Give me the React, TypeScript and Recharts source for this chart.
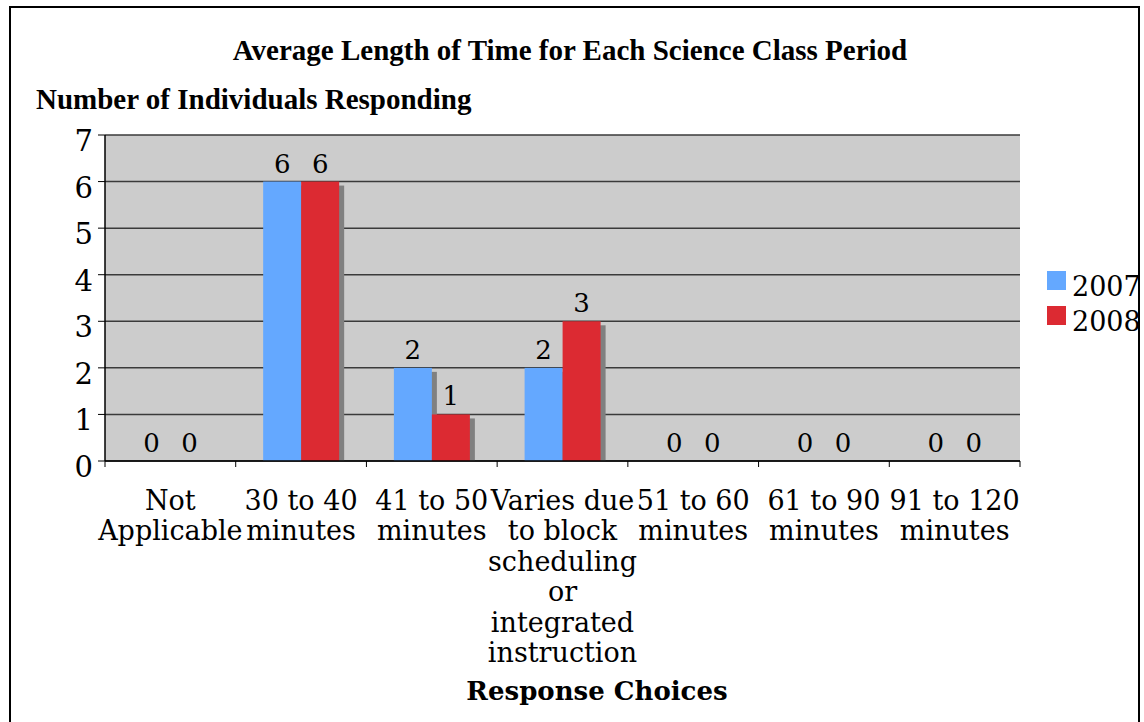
import { BarChart, Bar, XAxis, YAxis, CartesianGrid, Legend, LabelList } from 'recharts'

const categories = [
  'Not\nApplicable',
  '30 to 40\nminutes',
  '41 to 50\nminutes',
  'Varies due\nto block\nscheduling\nor\nintegrated\ninstruction',
  '51 to 60\nminutes',
  '61 to 90\nminutes',
  '91 to 120\nminutes',
]
const values2007 = [0, 6, 2, 2, 0, 0, 0]
const values2008 = [0, 6, 1, 3, 0, 0, 0]
const yTicks = [0, 1, 2, 3, 4, 5, 6, 7]

const data = categories.map((category, i) => ({
  category,
  y2007: values2007[i],
  y2008: values2008[i],
}))

const tickFont = '"DejaVu Serif", serif'

function CategoryTick(props: any) {
  const { x, y, payload, index, visibleTicksCount } = props
  const half = payload.offset ?? 0
  const lines = String(payload.value).split('\n')
  return (
    <g>
      <line x1={x - half} x2={x - half} y1={y - 6} y2={y} stroke="#000" />
      {index === visibleTicksCount - 1 && (
        <line x1={x + half} x2={x + half} y1={y - 6} y2={y} stroke="#000" />
      )}
      <text x={x} y={y} textAnchor="middle" fontFamily={tickFont} fontSize={27} fill="#000">
        {lines.map((line, i) => (
          <tspan key={i} x={x} dy={i === 0 ? 43 : 30.4}>
            {line}
          </tspan>
        ))}
      </text>
    </g>
  )
}

function ValueTick(props: any) {
  const { x, y, payload } = props
  return (
    <text x={x} y={y + 16} textAnchor="end" fontFamily={tickFont} fontSize={29} fill="#000">
      {payload.value}
    </text>
  )
}

function ShadowBar(props: any) {
  const { x, y, width, height, fill } = props
  if (!height || height <= 0) return null
  return (
    <g>
      {height > 4 && <rect x={x + 5} y={y + 4} width={width} height={height - 4} fill="#808080" />}
      <rect x={x} y={y} width={width} height={height} fill={fill} />
    </g>
  )
}

function LegendBox(props: any) {
  const { payload } = props
  return (
    <div style={{ fontFamily: tickFont, fontSize: 27, color: '#000' }}>
      {(payload || []).map((entry: any) => (
        <div key={entry.value} style={{ display: 'flex', alignItems: 'flex-start', height: 35 }}>
          <span style={{ width: 19, height: 19, background: entry.color, marginRight: 6, flexShrink: 0 }} />
          <span style={{ lineHeight: '32px', whiteSpace: 'nowrap' }}>{entry.value}</span>
        </div>
      ))}
    </div>
  )
}

export default function App() {
  return (
    <div style={{ position: 'absolute', left: 0, top: 0, width: 1144, height: 722, background: '#fff', overflow: 'hidden' }}>
      <div
        style={{
          position: 'absolute', left: 0, width: 1140, top: 35.7, textAlign: 'center',
          fontFamily: '"Liberation Serif", serif', fontWeight: 'bold', fontSize: 29, lineHeight: 1,
        }}
      >
        Average Length of Time for Each Science Class Period
      </div>
      <div
        style={{
          position: 'absolute', left: 36, top: 85, whiteSpace: 'nowrap',
          fontFamily: '"Liberation Serif", serif', fontWeight: 'bold', fontSize: 29, lineHeight: 1,
        }}
      >
        Number of Individuals Responding
      </div>
      <div style={{ position: 'absolute', left: 0, top: 0 }}>
        <BarChart
          width={1144}
          height={722}
          data={data}
          margin={{ top: 135, right: 124, left: 45, bottom: 31 }}
          barCategoryGap="21%"
          barGap={0}
        >
          <CartesianGrid vertical={false} stroke="#3a3a3a" strokeWidth={1.5} fill="#cccccc" fillOpacity={1} />
          <XAxis
            dataKey="category"
            interval={0}
            height={230}
            tickSize={6}
            tickMargin={0}
            tickLine={false}
            axisLine={{ stroke: '#000', strokeWidth: 1.5 }}
            tick={<CategoryTick />}
          />
          <XAxis xAxisId="top" dataKey="category" orientation="top" height={0} tick={false} tickLine={false} axisLine={{ stroke: '#888', strokeWidth: 2 }} />
          <YAxis
            domain={[0, 7]}
            ticks={yTicks}
            width={60}
            tickSize={7}
            tickMargin={5}
            tickLine={{ stroke: '#000' }}
            axisLine={{ stroke: '#000', strokeWidth: 1.5 }}
            tick={<ValueTick />}
          />
          <YAxis yAxisId="right" orientation="right" domain={[0, 7]} width={0} tick={false} tickLine={false} axisLine={{ stroke: '#888', strokeWidth: 3 }} />
          <Legend
            layout="vertical"
            align="center"
            verticalAlign="middle"
            content={<LegendBox />}
            wrapperStyle={{ left: 1047, top: 271, width: 110 }}
          />
          <Bar dataKey="y2007" name="2007" fill="#64a8ff" shape={<ShadowBar />} isAnimationActive={false}>
            <LabelList dataKey="y2007" position="top" offset={9} fill="#000" fontSize={26} fontFamily={tickFont} />
          </Bar>
          <Bar dataKey="y2008" name="2008" fill="#dc2a32" shape={<ShadowBar />} isAnimationActive={false}>
            <LabelList dataKey="y2008" position="top" offset={9} fill="#000" fontSize={26} fontFamily={tickFont} />
          </Bar>
        </BarChart>
      </div>
      <div
        style={{
          position: 'absolute', left: 0, width: 1194, top: 678, textAlign: 'center',
          fontFamily: tickFont, fontWeight: 'bold', fontSize: 26, lineHeight: 1,
        }}
      >
        Response Choices
      </div>
      <div
        style={{
          position: 'absolute', left: 9, top: 6, width: 1131, height: 740, boxSizing: 'border-box',
          border: '2px solid #000', pointerEvents: 'none',
        }}
      />
    </div>
  )
}
